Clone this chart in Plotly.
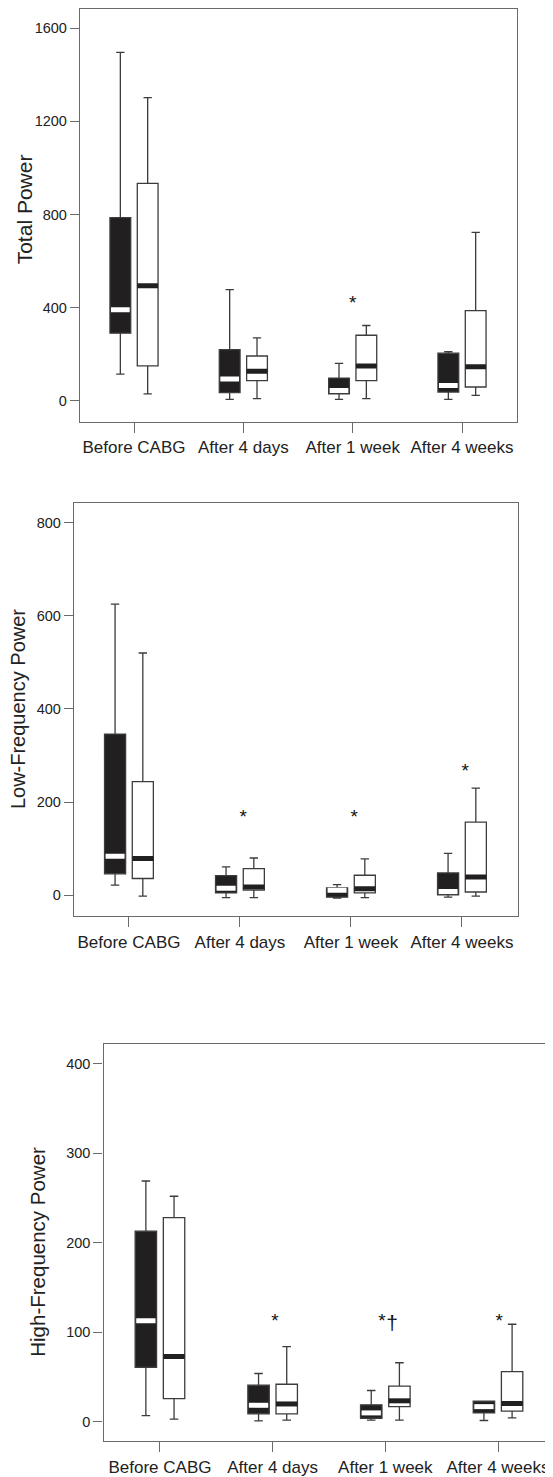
import plotly.graph_objects as go

# ---------------- data ----------------
categories = ["Before CABG", "After 4 days", "After 1 week", "After 4 weeks"]

# Total Power  (black = group 1, white = group 2)
tp_black_low = [115, 7, 7, 7]
tp_black_q1 = [291, 36, 31, 38]
tp_black_med = [392, 94, 45, 66]
tp_black_q3 = [787, 220, 98, 205]
tp_black_high = [1496, 478, 161, 212]
tp_white_low = [30, 10, 10, 24]
tp_white_q1 = [151, 87, 87, 60]
tp_white_med = [495, 127, 150, 147]
tp_white_q3 = [934, 193, 282, 388]
tp_white_high = [1302, 271, 324, 724]
tp_ticks = [0, 400, 800, 1200, 1600]
tp_sig_x = [2.0]
tp_sig_y = [416]
tp_sig_text = ["*"]

# Low-Frequency Power
lf_black_low = [22, -5, -6, -4]
lf_black_q1 = [46, 5, -4, 1]
lf_black_med = [84, 15, 11, 8]
lf_black_q3 = [346, 42, 16, 48]
lf_black_high = [625, 61, 23, 90]
lf_white_low = [-2, -5, -5, -2]
lf_white_q1 = [36, 11, 5, 7]
lf_white_med = [79, 18, 14, 39]
lf_white_q3 = [244, 57, 43, 157]
lf_white_high = [520, 80, 78, 230]
lf_ticks = [0, 200, 400, 600, 800]
lf_sig_x = [1.03, 2.03, 3.03]
lf_sig_y = [165, 165, 264]
lf_sig_text = ["*", "*", "*"]

# High-Frequency Power
hf_black_low = [7, 1, 2, 1.5]
hf_black_q1 = [61, 9, 4, 10]
hf_black_med = [113, 18.5, 10, 17]
hf_black_q3 = [213, 41, 19, 23]
hf_black_high = [269, 54, 35, 23]
hf_white_low = [3, 2, 2, 4.5]
hf_white_q1 = [26, 9, 17, 12]
hf_white_med = [73, 20, 23.5, 20.5]
hf_white_q3 = [228, 42, 40, 56]
hf_white_high = [252, 84, 66, 109]
hf_ticks = [0, 100, 200, 300, 400]
hf_sig_x = [1.02, 1.97, 3.01]
hf_sig_y = [111, 111, 111]
hf_sig_text = ["*", "*", "*"]
hf_dagger_x = [2.06]
hf_dagger_y = [108]
hf_dagger_text = ["†"]

titles = ["Total Power", "Low-Frequency Power", "High-Frequency Power"]

# ---------------- styling ----------------
PAGE_OFF = 8                 # default body margin of the html page
W, H = 553 - PAGE_OFF, 1477 - PAGE_OFF
FONT = "Liberation Sans, Arial, Helvetica, sans-serif"
BLACK = "#221f20"
LINE = "#3c3c3c"
FRAME = "#6a6a6a"
OFF = 0.125      # half distance between the paired boxes (category units)
BW = 0.19        # box width (category units)

panels = [
    dict(black=(tp_black_low, tp_black_q1, tp_black_med, tp_black_q3, tp_black_high),
         white=(tp_white_low, tp_white_q1, tp_white_med, tp_white_q3, tp_white_high),
         ticks=tp_ticks, sig=(tp_sig_x, tp_sig_y, tp_sig_text), extra=None,
         xpx=(80, 517), ypx=(9, 423), xr=[-0.494, 3.503], yr=[-88.6, 1682.6],
         title_px=(24, 210), title_size=21, right_line=True),
    dict(black=(lf_black_low, lf_black_q1, lf_black_med, lf_black_q3, lf_black_high),
         white=(lf_white_low, lf_white_q1, lf_white_med, lf_white_q3, lf_white_high),
         ticks=lf_ticks, sig=(lf_sig_x, lf_sig_y, lf_sig_text), extra=None,
         xpx=(74, 518), ypx=(505, 919.3), xr=[-0.495, 3.505], yr=[-44.9, 841.3],
         title_px=(17.5, 712), title_size=20, right_line=True),
    dict(black=(hf_black_low, hf_black_q1, hf_black_med, hf_black_q3, hf_black_high),
         white=(hf_white_low, hf_white_q1, hf_white_med, hf_white_q3, hf_white_high),
         ticks=hf_ticks, sig=(hf_sig_x, hf_sig_y, hf_sig_text),
         extra=(hf_dagger_x, hf_dagger_y, hf_dagger_text),
         xpx=(103.5, 553), ypx=(1047.3, 1446), xr=[-0.501, 3.488], yr=[-21.5, 422.3],
         title_px=(38, 1256), title_size=20.5, right_line=False),
]

fig = go.Figure()
layout = dict(width=W, height=H, margin=dict(l=0, r=0, t=0, b=0),
              paper_bgcolor="white", plot_bgcolor="white", showlegend=False,
              font=dict(family=FONT, color="#222"), annotations=[])

pos = list(range(len(categories)))


def fx(px):
    return min(max((px - PAGE_OFF) / W, 0.0), 1.0)


def fy(py):
    return min(max(1 - (py - PAGE_OFF) / H, 0.0), 1.0)


for i, p in enumerate(panels):
    n = "" if i == 0 else str(i + 1)
    xa, ya = "x" + n, "y" + n
    for key, fill, medcol, sgn in (("black", BLACK, "white", -1), ("white", "white", BLACK, 1)):
        low, q1, med, q3, high = p[key]
        xs = [c + sgn * OFF for c in pos]
        fig.add_trace(go.Box(
            x=xs, q1=q1, median=med, q3=q3, lowerfence=low, upperfence=high,
            width=BW, whiskerwidth=0.4, fillcolor=fill,
            line=dict(color=LINE, width=1.3), boxpoints=False,
            xaxis=xa, yaxis=ya, hoverinfo="skip"))
        # thick median band
        mx, my = [], []
        inset = 0.9 if key == "black" else 1.0
        for x0, m in zip(xs, med):
            mx += [x0 - BW / 2 * inset, x0 + BW / 2 * inset, None]
            my += [m, m, None]
        fig.add_trace(go.Scatter(x=mx, y=my, mode="lines",
                                 line=dict(color=medcol, width=5),
                                 xaxis=xa, yaxis=ya, hoverinfo="skip"))
    sx, sy, st = p["sig"]
    fig.add_trace(go.Scatter(x=sx, y=sy, text=st, mode="text",
                             textfont=dict(size=19, color="#111", family=FONT),
                             xaxis=xa, yaxis=ya, hoverinfo="skip"))
    if p["extra"]:
        dx, dy, dt = p["extra"]
        fig.add_trace(go.Scatter(x=dx, y=dy, text=dt, mode="text",
                                 textfont=dict(size=21, color="#111", family=FONT),
                                 xaxis=xa, yaxis=ya, hoverinfo="skip"))

    x0, x1 = p["xpx"]
    yt, yb = p["ypx"]
    layout["xaxis" + n] = dict(
        domain=[fx(x0), fx(x1)], anchor=ya, range=p["xr"],
        tickvals=pos, ticktext=categories, ticks="outside", ticklen=10,
        tickcolor=FRAME, tickwidth=1, showline=True, linecolor=FRAME, linewidth=1.3,
        mirror=True, showgrid=False, zeroline=False,
        tickfont=dict(size=17, color="#222", family=FONT))
    layout["yaxis" + n] = dict(
        domain=[fy(yb), fy(yt)], anchor=xa, range=p["yr"],
        tickvals=p["ticks"], ticks="outside", ticklen=9, tickcolor=FRAME, tickwidth=1,
        showline=True, linecolor=FRAME, linewidth=1.3, mirror=p["right_line"],
        showgrid=False, zeroline=False,
        tickfont=dict(size=14.5, color="#222", family=FONT))
    tx, ty = p["title_px"]
    layout["annotations"].append(dict(
        text=titles[i], xref="paper", yref="paper", x=fx(tx), y=fy(ty),
        xanchor="center", yanchor="middle", textangle=-90, showarrow=False,
        font=dict(size=p["title_size"], color="#222", family=FONT)))

fig.update_layout(**layout)
fig.write_html("out.html")
